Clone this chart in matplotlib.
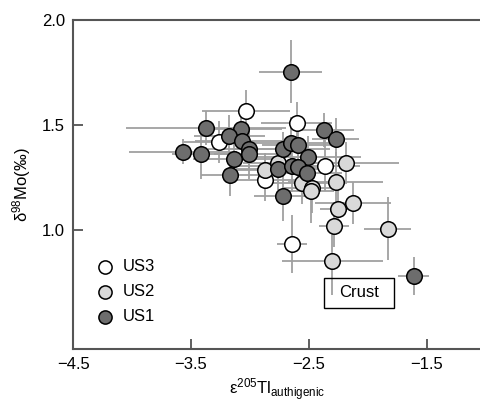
import matplotlib
matplotlib.use('Agg')
import matplotlib.pyplot as plt
from matplotlib.patches import Rectangle
import numpy as np

plt.rcParams['font.family'] = ['Liberation Sans', 'DejaVu Sans']
plt.rcParams['mathtext.fontset'] = 'custom'
plt.rcParams['mathtext.rm'] = 'Liberation Sans'
plt.rcParams['mathtext.it'] = 'Liberation Sans:italic'

# US1 (dark grey)
us1_tl = [-2.655, -3.373, -3.076, -3.175, -3.070, -3.006, -3.006, -3.570, -3.415, -3.136,
          -3.169, -2.723, -2.653, -2.596, -2.511, -2.370, -2.271, -2.765, -2.647, -2.591,
          -2.520, -2.718, -1.610]
us1_mo = [1.754, 1.484, 1.481, 1.449, 1.424, 1.384, 1.360, 1.373, 1.362, 1.338,
          1.259, 1.384, 1.416, 1.405, 1.349, 1.476, 1.433, 1.289, 1.302, 1.297,
          1.270, 1.162, 0.781]
us1_tl_err = [0.27, 0.68, 0.35, 0.30, 0.40, 0.35, 0.30, 0.46, 0.25, 0.35,
              0.25, 0.40, 0.35, 0.30, 0.45, 0.25, 0.20, 0.35, 0.50, 0.30,
              0.30, 0.25, 0.13]
us1_mo_err = [0.15, 0.08, 0.10, 0.10, 0.08, 0.10, 0.12, 0.06, 0.12, 0.08,
              0.10, 0.08, 0.12, 0.10, 0.10, 0.08, 0.10, 0.10, 0.12, 0.10,
              0.08, 0.12, 0.09]

# US2 (light grey)
us2_tl = [-2.873, -2.760, -2.186, -2.562, -2.477, -2.483, -2.274, -2.125, -2.252, -2.286,
          -2.302, -1.831]
us2_mo = [1.286, 1.320, 1.318, 1.225, 1.201, 1.183, 1.230, 1.130, 1.099, 1.016,
          0.849, 1.005]
us2_tl_err = [0.35, 0.30, 0.45, 0.30, 0.25, 0.20, 0.40, 0.32, 0.15, 0.13,
              0.43, 0.20]
us2_mo_err = [0.08, 0.10, 0.10, 0.10, 0.12, 0.15, 0.14, 0.10, 0.12, 0.10,
              0.16, 0.15]

# US3 (white)
us3_tl = [-3.034, -3.263, -2.604, -2.364, -2.873, -2.642]
us3_mo = [1.568, 1.420, 1.511, 1.306, 1.235, 0.932]
us3_tl_err = [0.37, 0.30, 0.30, 0.30, 0.30, 0.13]
us3_mo_err = [0.10, 0.10, 0.10, 0.12, 0.10, 0.14]

# crust reference box
crust_x = (-2.373, -1.780)
crust_y = (0.629, 0.771)

fig = plt.figure(figsize=(4.81, 4.07), dpi=100)
ax = fig.add_axes([0.152, 0.1425, 0.848, 0.8085])

bar_col = '#a0a0a0'
groups = [
    ('US3', us3_tl, us3_mo, us3_tl_err, us3_mo_err, 'white'),
    ('US2', us2_tl, us2_mo, us2_tl_err, us2_mo_err, '#d9d9d9'),
    ('US1', us1_tl, us1_mo, us1_tl_err, us1_mo_err, '#6d6d6d'),
]
for name, x, y, xe, ye, c in groups:
    ax.errorbar(x, y, xerr=xe, yerr=ye, fmt='none', ecolor=bar_col,
                elinewidth=1.3, capsize=0, zorder=1)
handles = []
for name, x, y, xe, ye, c in groups:
    h = ax.scatter(x, y, s=125, facecolor=c, edgecolor='black',
                   linewidth=1.1, zorder=3, label=name)
    handles.append(h)

ax.add_patch(Rectangle((crust_x[0], crust_y[0]), crust_x[1] - crust_x[0],
                       crust_y[1] - crust_y[0], fill=False, edgecolor='black',
                       linewidth=1.0, zorder=4))
ax.text(np.mean(crust_x), np.mean(crust_y), 'Crust', ha='center', va='center',
        fontsize=12, zorder=5)

ax.set_xlim(-4.5, -1.04)
ax.set_ylim(0.432, 2.0)
ax.set_xticks([-4.5, -3.5, -2.5, -1.5])
ax.set_xticklabels(['\u22124.5', '\u22123.5', '\u22122.5', '\u22121.5'])
ax.set_yticks([1.0, 1.5, 2.0])
ax.set_yticklabels(['1.0', '1.5', '2.0'])
ax.tick_params(direction='in', length=7, width=1.2, color='#444444',
               labelsize=12, pad=6)
ax.spines['right'].set_visible(False)
for s in ['left', 'top', 'bottom']:
    ax.spines[s].set_color('#555555')
    ax.spines[s].set_linewidth(1.5)

ax.set_xlabel(r'ε$^{205}$Tl$_{\mathrm{authigenic}}$', fontsize=12, labelpad=3)
ax.set_ylabel(r'δ$^{98}$Mo(‰)', fontsize=12, labelpad=6)

leg = ax.legend(handles=handles, loc='lower left', bbox_to_anchor=(0.02, 0.055),
                frameon=False, fontsize=12, markerscale=0.85,
                handletextpad=0.1, labelspacing=0.6, borderaxespad=0)

fig.savefig('out.png', dpi=100)
